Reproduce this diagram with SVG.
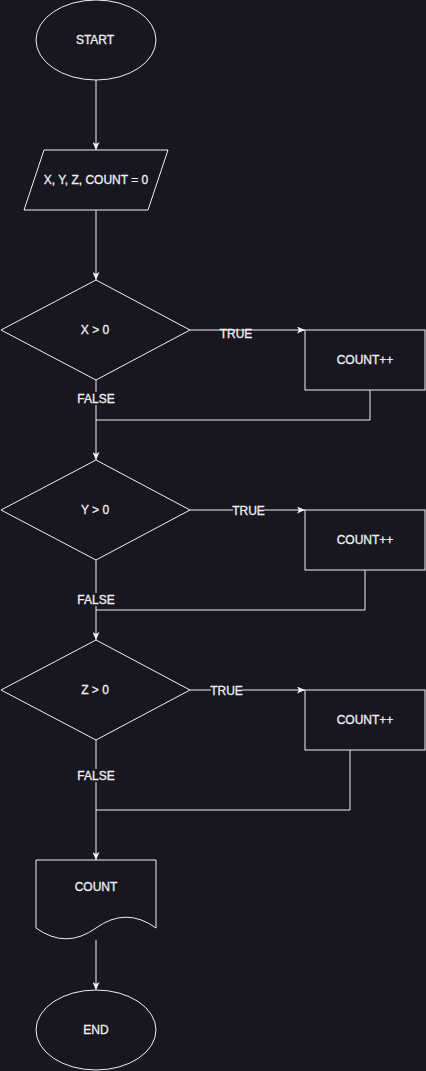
<svg xmlns="http://www.w3.org/2000/svg" width="426" height="1071" viewBox="0 0 426 1071">
<style>
.shape{fill:#18161f;stroke:#f0f0f0;stroke-width:1}
.edge{fill:none;stroke:#f0f0f0;stroke-width:1}
.lbl{font-family:"Liberation Sans",Arial,Helvetica,sans-serif;font-size:12px;fill:#f0f0f0;stroke:#f0f0f0;stroke-width:0.3;text-anchor:middle}
.lblbg{fill:#18161f}
</style>
<defs>
<marker id="arrow" viewBox="0 0 8 7" refX="8" refY="3.5" markerWidth="8" markerHeight="7" markerUnits="userSpaceOnUse" orient="auto">
<path d="M0,0 L8,3.5 L0,7 L2,3.5 Z" fill="#f0f0f0"/>
</marker>
</defs>
<rect x="0" y="0" width="426" height="1071" fill="#18161f"/>
<g id="connectors">
<path class="edge" d="M96,80 V150" marker-end="url(#arrow)"/>
<path class="edge" d="M96,210 V280" marker-end="url(#arrow)"/>
<path class="edge" d="M190,330 H305" marker-end="url(#arrow)"/>
<path class="edge" d="M96,380 V460" marker-end="url(#arrow)"/>
<path class="edge" d="M370,390 V420 H96"/>
<path class="edge" d="M190,510 H305" marker-end="url(#arrow)"/>
<path class="edge" d="M96,560 V640" marker-end="url(#arrow)"/>
<path class="edge" d="M365,570 V610 H96"/>
<path class="edge" d="M190,690 H305" marker-end="url(#arrow)"/>
<path class="edge" d="M96,740 V860" marker-end="url(#arrow)"/>
<path class="edge" d="M350,750 V810 H96"/>
<path class="edge" d="M96,940 V990" marker-end="url(#arrow)"/>
<text class="lbl" x="236" y="338">TRUE</text>
<rect class="lblbg" x="78" y="392" width="36" height="13"/>
<text class="lbl" x="96" y="403">FALSE</text>
<rect class="lblbg" x="233" y="504" width="31" height="13"/>
<text class="lbl" x="248.5" y="515">TRUE</text>
<rect class="lblbg" x="78" y="593" width="36" height="13"/>
<text class="lbl" x="96" y="604">FALSE</text>
<rect class="lblbg" x="211" y="684" width="31" height="13"/>
<text class="lbl" x="226.5" y="695">TRUE</text>
<rect class="lblbg" x="78" y="769" width="36" height="13"/>
<text class="lbl" x="96" y="780">FALSE</text>
</g>
<g id="start">
<ellipse class="shape" cx="96" cy="40" rx="60" ry="40"/>
<text class="lbl" x="95" y="44">START</text>
</g>
<g id="init">
<path class="shape" d="M44,150 H168 L148,210 H24 Z"/>
<text class="lbl" x="96" y="184">X, Y, Z, COUNT = 0</text>
</g>
<g id="decX">
<path class="shape" d="M96,280 L190,330 L96,380 L1,330 Z"/>
<text class="lbl" x="95" y="334">X &gt; 0</text>
</g>
<g id="incX">
<rect class="shape" x="305" y="330" width="120" height="60"/>
<text class="lbl" x="365" y="364">COUNT++</text>
</g>
<g id="decY">
<path class="shape" d="M96,460 L190,510 L96,560 L1,510 Z"/>
<text class="lbl" x="95" y="514">Y &gt; 0</text>
</g>
<g id="incY">
<rect class="shape" x="305" y="510" width="120" height="60"/>
<text class="lbl" x="365" y="544">COUNT++</text>
</g>
<g id="decZ">
<path class="shape" d="M96,640 L190,690 L96,740 L1,690 Z"/>
<text class="lbl" x="95" y="694">Z &gt; 0</text>
</g>
<g id="incZ">
<rect class="shape" x="305" y="690" width="120" height="60"/>
<text class="lbl" x="365" y="724">COUNT++</text>
</g>
<g id="output">
<path class="shape" d="M36,860 H156 V928 Q126,906.4 96,928 Q66,949.6 36,928 Z"/>
<text class="lbl" x="96" y="891">COUNT</text>
</g>
<g id="end">
<ellipse class="shape" cx="96" cy="1030" rx="60" ry="40"/>
<text class="lbl" x="96" y="1034">END</text>
</g>
</svg>
